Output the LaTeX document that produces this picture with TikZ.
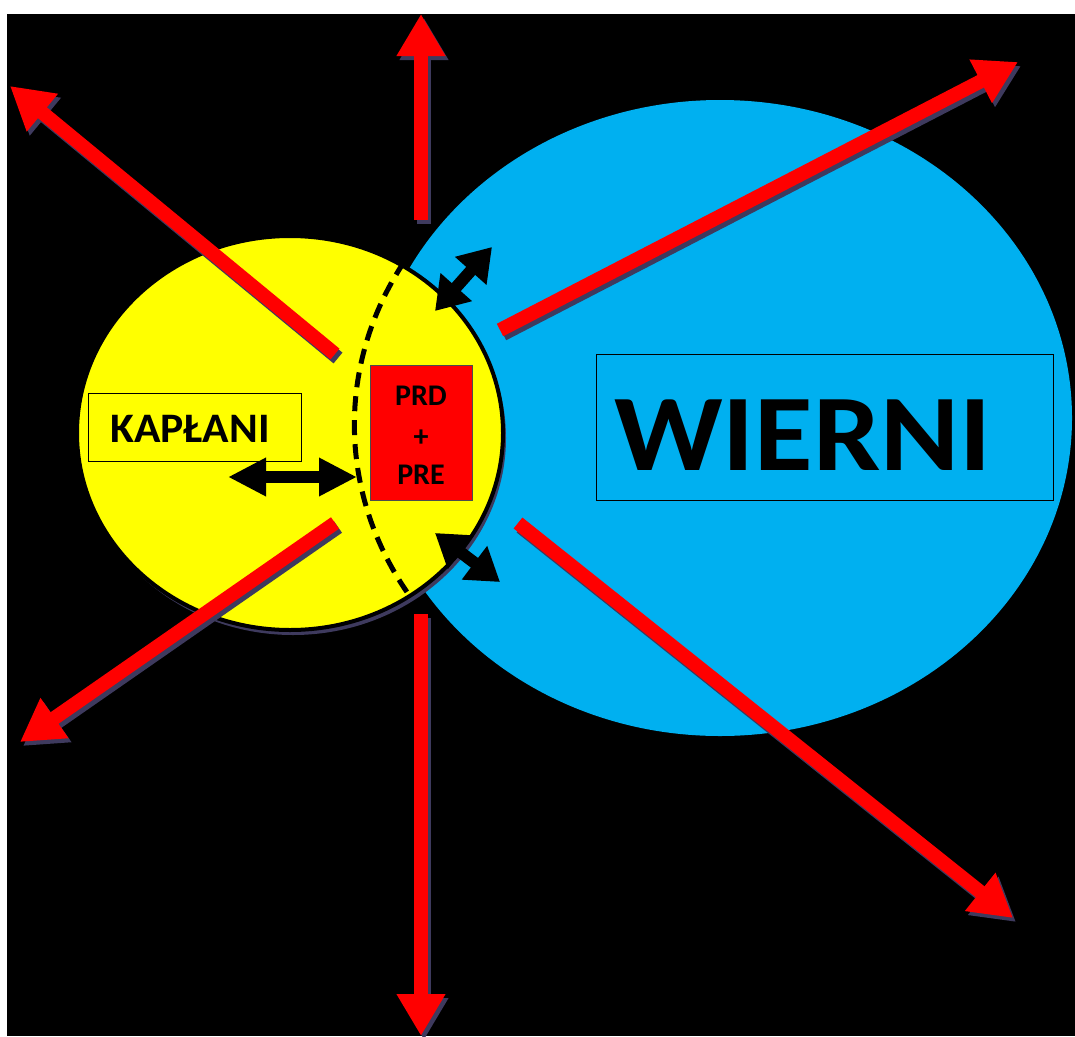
\documentclass[tikz,border=0pt]{standalone}
\usepackage{fontspec}
\setmainfont{Carlito}
\usetikzlibrary{arrows.meta}
\definecolor{skyb}{HTML}{00B0F0}
\definecolor{ylw}{HTML}{FFFF00}
\definecolor{rd}{HTML}{FF0000}
\definecolor{shd}{HTML}{3E3A5E}
\begin{document}
\begin{tikzpicture}[x=1pt,y=-1pt,
  redarrow/.style={draw=rd, line width=14pt, -{Triangle[length=42pt,width=46pt]}},
  redshadow/.style={draw=shd, line width=14pt, -{Triangle[length=42pt,width=46pt]}},
  blackarrow/.style={draw=black, line width=12pt, {Triangle[length=38pt,width=36pt]}-{Triangle[length=38pt,width=36pt]}},
  blackarrowsm/.style={draw=black, line width=12pt, {Triangle[length=32pt,width=40pt]}-{Triangle[length=32pt,width=40pt]}},
  labelbox/.style={draw=black, line width=1pt, inner sep=0pt},
  prdtext/.style={font=\bfseries\fontsize{30}{30}\selectfont, inner sep=0pt}
]
\newcommand\redarr[2]{%
  \draw[redshadow] ([shift={(3,4)}]#1) -- ([shift={(3,4)}]#2);
  \draw[redarrow] (#1) -- (#2);}
\useasboundingbox (0,0) rectangle (1075,1036);
\fill[white] (0,0) rectangle (1075,1036);
\fill[black] (7,14) rectangle (1075,1036);
% blue ellipse
\fill[skyb] (720,418) ellipse[x radius=352pt, y radius=318pt];
% yellow circle
\fill[shd] (293,438) ellipse[x radius=213pt, y radius=197pt];
\draw[fill=ylw, draw=black, line width=4pt] (290,433) ellipse[x radius=213pt, y radius=197pt];
% dashed arc
\draw[black, line width=5pt, dash pattern=on 15pt off 9pt] (404,262) arc[start angle=149.2, end angle=211.7, x radius=352pt, y radius=318pt];
% boxes
\node[labelbox, minimum width=213pt, minimum height=68pt] (kbox) at (194.5,427) {};
\node[font=\bfseries\fontsize{42}{42}\selectfont, inner sep=0pt] (ktext) at (190,429) {\scalebox{1.04}[1]{KAPŁANI}};
\node[labelbox, minimum width=457pt, minimum height=146pt] (wbox) at (824.5,427) {};
\node[font=\bfseries\fontsize{109}{109}\selectfont, inner sep=0pt] (wtext) at (803,435) {\scalebox{1.1}[1]{WIERNI}};
\node[fill=rd, draw=black!70, line width=1pt, minimum width=102pt, minimum height=135pt, inner sep=0pt] (pbox) at (421,432.5) {};
\node[prdtext] (p1) at (421,396) {PRD};
\node[prdtext] (p2) at (421,438) {+};
\node[prdtext] (p3) at (421,475) {PRE};
% red arrow coordinates
\coordinate (a1s) at (335,354); \coordinate (a1e) at (10,86);
\coordinate (a2s) at (421,220); \coordinate (a2e) at (421,14);
\coordinate (a3s) at (500,330); \coordinate (a3e) at (1018,62);
\coordinate (a4s) at (335,523); \coordinate (a4e) at (20,742);
\coordinate (a5s) at (421,614); \coordinate (a5e) at (421,1036);
\coordinate (a6s) at (518,523); \coordinate (a6e) at (1013,918);
\redarr{a1s}{a1e}
\redarr{a2s}{a2e}
\redarr{a3s}{a3e}
\redarr{a4s}{a4e}
\redarr{a5s}{a5e}
\redarr{a6s}{a6e}
% black double arrows
\coordinate (b1s) at (228,477); \coordinate (b1e) at (357,477);
\coordinate (b2s) at (435,311); \coordinate (b2e) at (492,247);
\coordinate (b3s) at (435,533); \coordinate (b3e) at (500,582);
\draw[blackarrow] (b1s) -- (b1e);
\draw[blackarrowsm] (b2s) -- (b2e);
\draw[blackarrowsm] (b3s) -- (b3e);
\end{tikzpicture}
\end{document}
